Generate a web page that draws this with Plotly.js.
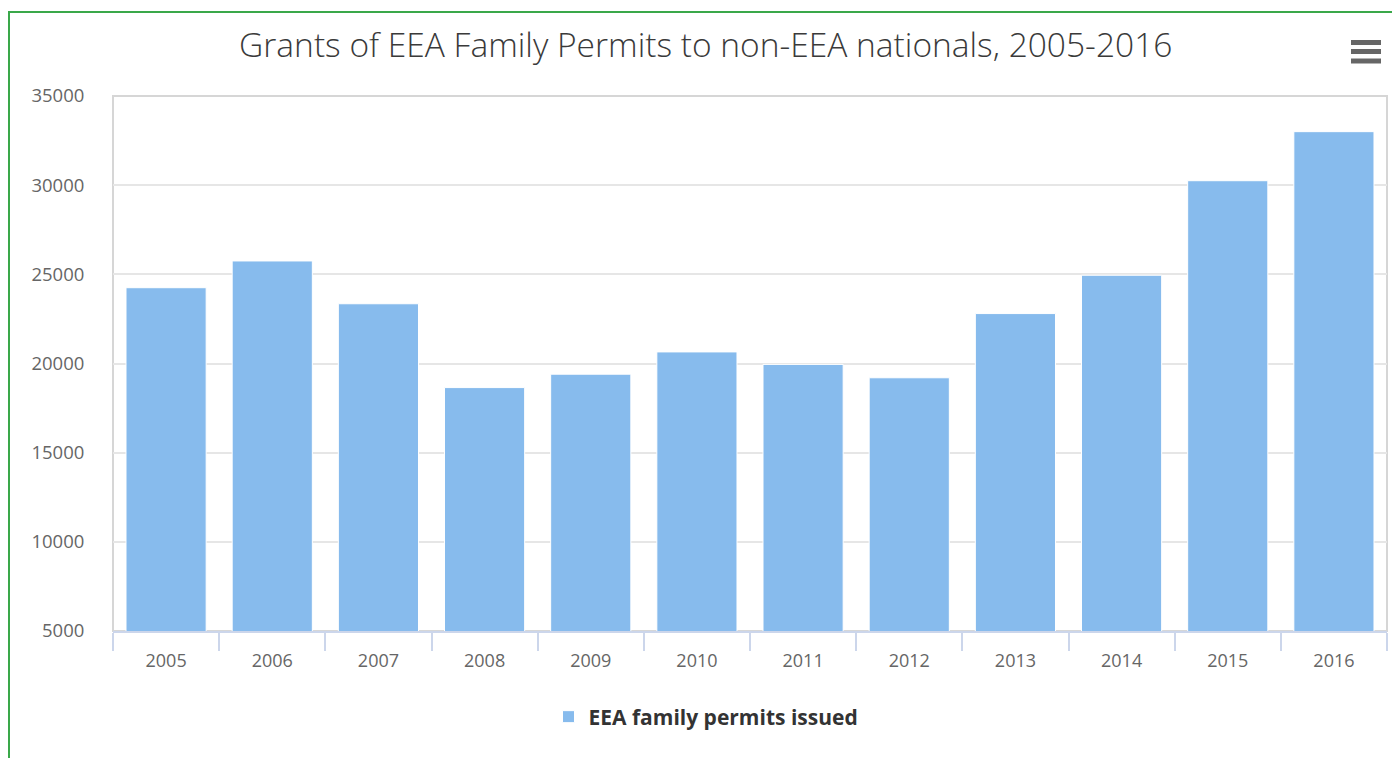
<!DOCTYPE html>
<html>
<head>
<meta charset="utf-8">
<script src="https://cdn.plot.ly/plotly-3.0.1.min.js"></script>
<style>
  html, body { margin: 0; padding: 0; background: #fff; }
  #chart { position: absolute; left: 0; top: 0; width: 1392px; height: 758px; }
  #frame { position: absolute; left: 8px; top: 11px; width: 1400px; height: 800px;
           border-left: 2px solid #3aa84a; border-top: 2px solid #3aa84a; pointer-events: none; }
</style>
</head>
<body>
<div id="chart"></div>
<div id="frame"></div>
<script>
const years = ["2005","2006","2007","2008","2009","2010","2011","2012","2013","2014","2015","2016"];
const permits = [24250, 25750, 23350, 18650, 19400, 20650, 19950, 19200, 22800, 24950, 30250, 33000];
const seriesName = "EEA family permits issued";
const chartTitle = "Grants of EEA Family Permits to non-EEA nationals, 2005-2016";
const yTicks = [5000, 10000, 15000, 20000, 25000, 30000, 35000];

const FONT = "'Open Sans', 'Noto Sans', sans-serif";

const trace = {
  type: "bar",
  x: years,
  y: permits,
  name: seriesName,
  marker: { color: "#87bbed", line: { color: "#ffffff", width: 1 } },
  showlegend: true,
  hoverinfo: "x+y"
};

const L = 113, R = 1387, T = 96, B = 631;
const px = v => (v - L) / (R - L);
const py = v => (B - v) / (B - T);

const layout = {
  width: 1392, height: 758,
  margin: { l: L, r: 1392 - R, t: T, b: 758 - B, pad: 0, autoexpand: false },
  paper_bgcolor: "#ffffff",
  plot_bgcolor: "#ffffff",
  font: { family: FONT, color: "#666666" },
  title: {
    text: chartTitle,
    font: { family: FONT, size: 33.5, color: "#3a3a3a", weight: 300 },
    xref: "container", x: 0.507, xanchor: "center",
    yref: "container", y: 1 - 45 / 758, yanchor: "middle"
  },
  bargap: 0.245,
  xaxis: {
    type: "category",
    tickson: "boundaries",
    ticks: "outside",
    ticklen: 18,
    tickwidth: 1.5,
    tickcolor: "#ccd6eb",
    tickangle: 0,
    ticklabelstandoff: 13,
    showline: true,
    linecolor: "#ccd6eb",
    linewidth: 1.5,
    showgrid: false,
    automargin: false,
    tickfont: { family: FONT, size: 18, color: "#666666" },
    fixedrange: true
  },
  yaxis: {
    range: [5000, 35000],
    tickvals: yTicks,
    ticktext: yTicks.map(String),
    ticks: "outside",
    ticklen: 24,
    tickcolor: "rgba(0,0,0,0)",
    showgrid: true,
    gridcolor: "#e6e6e6",
    gridwidth: 1.5,
    zeroline: false,
    showline: false,
    automargin: false,
    tickfont: { family: FONT, size: 18.5, color: "#666666" },
    fixedrange: true
  },
  legend: {
    orientation: "h",
    xref: "paper", x: px(706), xanchor: "center",
    yref: "paper", y: py(717), yanchor: "middle",
    font: { family: FONT, size: 21, color: "#333333", weight: "bold" },
    bgcolor: "rgba(0,0,0,0)"
  },
  shapes: [
    { type: "rect", xref: "paper", yref: "paper", x0: 0, x1: 1, y0: 0, y1: 1,
      line: { color: "#d6d6d6", width: 2 }, fillcolor: "rgba(0,0,0,0)", layer: "below" },
    { type: "line", xref: "paper", yref: "paper", x0: px(1351), x1: px(1381), y0: py(42.5), y1: py(42.5),
      line: { color: "#666666", width: 5 } },
    { type: "line", xref: "paper", yref: "paper", x0: px(1351), x1: px(1381), y0: py(51.5), y1: py(51.5),
      line: { color: "#666666", width: 5 } },
    { type: "line", xref: "paper", yref: "paper", x0: px(1351), x1: px(1381), y0: py(61), y1: py(61),
      line: { color: "#666666", width: 5 } }
  ]
};

Plotly.newPlot("chart", [trace], layout, { displayModeBar: false });
</script>
</body>
</html>
